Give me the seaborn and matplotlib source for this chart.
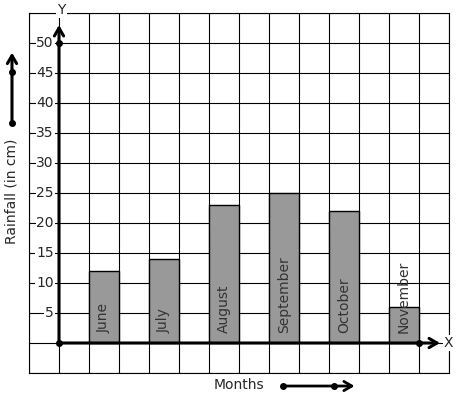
import numpy as np
import pandas as pd
import matplotlib
matplotlib.use('Agg')
import matplotlib.pyplot as plt
import seaborn as sns

# Rainfall per month (cm)
months = ['June', 'July', 'August', 'September', 'October', 'November']
rainfall = [12, 14, 23, 25, 22, 6]
y_ticks = [5, 10, 15, 20, 25, 30, 35, 40, 45, 50]

sns.set_style('white')
plt.rcParams['font.family'] = ['DejaVu Sans']

df = pd.DataFrame({'month': months, 'rain': rainfall})
# bars sit in every other grid column, starting one column right of the Y axis
df['pos'] = 1.5 + 2 * np.arange(len(months))

fig = plt.figure(figsize=(4.57, 3.99), dpi=100)
ax = fig.add_axes([29 / 457, 26 / 399, 420 / 457, 360 / 399])

sns.barplot(data=df, x='pos', y='rain', native_scale=True, width=0.5,
            color='#999999', saturation=1, edgecolor='black', linewidth=1,
            ax=ax, zorder=2)

ax.set_xlim(-1, 13)
ax.set_ylim(-5, 55)
ax.set_xticks(range(-1, 14))
ax.set_yticks(range(-5, 56, 5))
ax.tick_params(length=0, labelbottom=False, labelleft=False)
ax.set_xlabel('')
ax.set_ylabel('')
ax.grid(True, color='black', linewidth=0.8)
ax.set_axisbelow(True)
for s in ax.spines.values():
    s.set_color('black')
    s.set_linewidth(0.8)

txt = '#262626'

# month names inside the bars
for p, m in zip(df['pos'], df['month']):
    ax.text(p, 1.6, m, rotation=90, ha='center', va='bottom',
            fontsize=10, color='#333333', zorder=3)

# y tick labels with white background over the grid
for t in y_ticks:
    ax.text(-0.17, t, str(t), ha='right', va='center', fontsize=10,
            color=txt, zorder=3, clip_on=False,
            bbox=dict(facecolor='white', edgecolor='none', pad=0.6))

# axes with arrows
arrow = dict(arrowstyle='->,head_length=0.6,head_width=0.35', color='black',
             lw=2.2, shrinkA=0, shrinkB=0, mutation_scale=9.5)
ax.annotate('', xy=(0, 53), xytext=(0, 0), arrowprops=arrow,
            annotation_clip=False, zorder=4)
ax.annotate('', xy=(12.7, 0), xytext=(0, 0), arrowprops=arrow,
            annotation_clip=False, zorder=4)
ax.plot([0, 0, 12], [0, 50, 0], 'o', color='black', ms=4,
        clip_on=False, zorder=5)
ax.text(0.07, 55.5, 'Y', ha='center', va='center', fontsize=10,
        color=txt, clip_on=False, zorder=5,
        bbox=dict(facecolor='white', edgecolor='none', pad=1))
ax.text(12.97, 0, 'X', ha='center', va='center', fontsize=10,
        color=txt, clip_on=False, zorder=5,
        bbox=dict(facecolor='white', edgecolor='none', pad=0.5))

# y axis title and arrow
ax.text(-1.567, 25.2, 'Rainfall (in cm)', rotation=90, ha='center',
        va='center', fontsize=10, color=txt, clip_on=False)
ax.annotate('', xy=(-1.567, 48.4), xytext=(-1.567, 36.7), arrowprops=arrow,
            annotation_clip=False)
ax.plot([-1.567, -1.567], [36.7, 45.2], 'o', color='black', ms=4,
        clip_on=False)

# x axis title and arrow
ax.text(6.0, -7.0, 'Months', ha='center', va='center', fontsize=10,
        color=txt, clip_on=False)
arrow2 = dict(arrow, lw=2.0)
ax.annotate('', xy=(9.85, -7.17), xytext=(7.47, -7.17), arrowprops=arrow2,
            annotation_clip=False)
ax.plot([7.47, 9.17], [-7.17, -7.17], 'o', color='black', ms=4,
        clip_on=False)

fig.savefig('out.png', dpi=100)
